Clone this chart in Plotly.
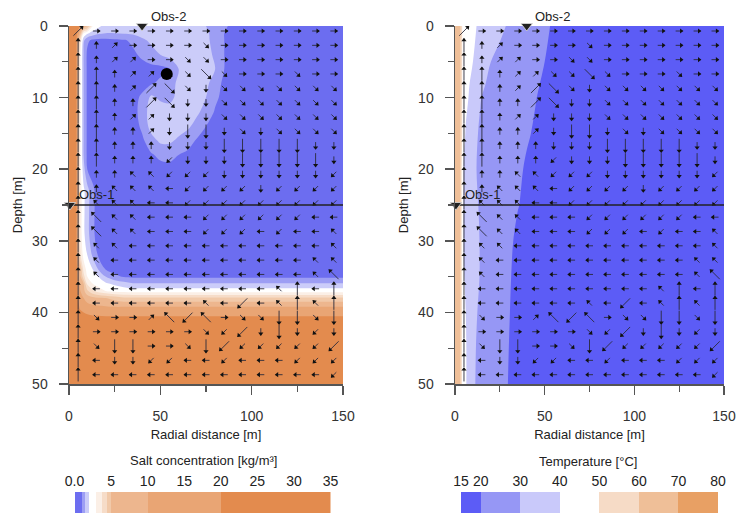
import numpy as np
import plotly.graph_objects as go

W, H = 737, 513
FONT = "Liberation Sans, Arial, sans-serif"

# ---------------- data ----------------
X_TICKS = [0, 50, 100, 150]
X_MINOR = [25, 75, 125]
Y_TICKS = [0, 10, 20, 30, 40, 50]
Y_MINOR = [5, 15, 25, 35, 45]

# Salt concentration field [kg/m3]
SALT_X = [0, 2, 4, 6, 8, 10, 13, 16, 20, 25, 30, 35, 40, 45, 50, 55, 60, 65, 70, 75, 80, 85, 90, 100, 120, 150]
SALT_DEPTH = [0, 1, 2, 4, 6, 8, 10, 12, 14, 16, 18, 20, 23, 26, 29, 32, 34, 35, 36, 37, 38, 39, 40, 41, 44, 47, 50]
SALT = [
    [30, 30, 28, 20, 12, 6, 3, 2.3, 1.8, 1.75, 1.7, 1.7, 1.7, 1.7, 1.7, 1.75, 1.75, 1.7, 1.65, 1.5, 1.3, 1.1, 0.7, 0.5, 0.5, 0.5],
    [30, 30, 26, 8, 3, 2.2, 1.8, 1.6, 1.5, 1.5, 1.55, 1.6, 1.7, 1.7, 1.75, 1.75, 1.8, 1.8, 1.7, 1.6, 1.3, 1.0, 0.6, 0.5, 0.5, 0.5],
    [30, 30, 25, 4, 1.6, 1.1, 0.8, 0.7, 0.7, 0.8, 0.9, 1.1, 1.4, 1.6, 1.7, 1.75, 1.8, 1.8, 1.75, 1.6, 1.35, 1.0, 0.6, 0.5, 0.5, 0.5],
    [30, 30, 25, 3.2, 1.5, 0.8, 0.5, 0.5, 0.5, 0.5, 0.6, 0.8, 1.1, 1.3, 1.5, 1.7, 1.8, 1.8, 1.8, 1.7, 1.4, 1.0, 0.6, 0.5, 0.5, 0.5],
    [30, 30, 25, 3.2, 1.5, 0.8, 0.5, 0.5, 0.5, 0.5, 0.5, 0.5, 0.6, 0.7, 0.7, 0.9, 1.5, 1.8, 1.8, 1.75, 1.5, 1.0, 0.6, 0.5, 0.5, 0.5],
    [30, 30, 25, 3.2, 1.5, 0.8, 0.5, 0.5, 0.5, 0.5, 0.5, 0.5, 0.6, 0.9, 1.1, 1.3, 1.6, 1.8, 1.8, 1.65, 1.2, 0.8, 0.5, 0.5, 0.5, 0.5],
    [30, 30, 25, 3.2, 1.5, 0.8, 0.5, 0.5, 0.5, 0.5, 0.5, 0.6, 1.1, 1.6, 1.4, 1.3, 1.7, 1.8, 1.75, 1.5, 1.1, 0.7, 0.5, 0.5, 0.5, 0.5],
    [30, 30, 25, 3.2, 1.5, 0.8, 0.5, 0.5, 0.5, 0.5, 0.5, 0.6, 1.2, 1.75, 1.8, 1.8, 1.8, 1.75, 1.6, 1.3, 0.9, 0.6, 0.5, 0.5, 0.5, 0.5],
    [30, 30, 25, 3.2, 1.5, 0.8, 0.5, 0.5, 0.5, 0.5, 0.5, 0.5, 1.1, 1.7, 1.8, 1.8, 1.75, 1.6, 1.3, 1.0, 0.6, 0.5, 0.5, 0.5, 0.5, 0.5],
    [30, 30, 25, 3.2, 1.5, 0.8, 0.5, 0.5, 0.5, 0.5, 0.5, 0.5, 0.8, 1.3, 1.6, 1.6, 1.4, 1.2, 0.9, 0.6, 0.5, 0.5, 0.5, 0.5, 0.5, 0.5],
    [30, 30, 25, 3.2, 1.5, 0.8, 0.5, 0.5, 0.5, 0.5, 0.5, 0.5, 0.6, 0.9, 1.1, 1.15, 1.0, 0.8, 0.6, 0.5, 0.5, 0.5, 0.5, 0.5, 0.5, 0.5],
    [30, 30, 25, 3.3, 1.7, 1.0, 0.6, 0.5, 0.5, 0.5, 0.5, 0.5, 0.5, 0.6, 0.7, 0.7, 0.6, 0.5, 0.5, 0.5, 0.5, 0.5, 0.5, 0.5, 0.5, 0.5],
    [30, 30, 25, 3.5, 2.2, 1.7, 1.1, 0.6] + [0.5] * 18,
    [30, 30, 25, 3.5, 2.2, 1.7, 1.1, 0.6] + [0.5] * 18,
    [30, 30, 25, 3.5, 2.2, 1.7, 1.1, 0.6] + [0.5] * 18,
    [30, 30, 25, 4, 2.6, 2.0, 1.4, 0.9, 0.6] + [0.5] * 17,
    [30, 30, 26, 6, 3.5, 2.6, 2.0, 1.5, 1.0, 0.7, 0.55] + [0.5] * 15,
    [30, 30, 26, 7, 4, 3.0, 2.4, 2.0, 1.5, 1.1, 0.9] + [0.8] * 15,
    [30, 30, 27, 9, 5, 3.6, 3.0, 2.6, 2.2, 1.9, 1.7] + [1.55] * 15,
    [30, 30, 27, 11, 6.5, 4.6, 3.9, 3.4, 3.0, 2.7, 2.6] + [2.5] * 15,
    [30, 30, 28, 14, 10, 8, 6.5, 5.8, 5.2, 4.8] + [4.6] * 16,
    [30, 30, 28, 18, 14, 12, 10.5, 9.8, 9.5] + [9] * 17,
    [30, 30, 29, 22, 20, 19, 18, 17.5] + [17] * 18,
    [30, 30, 29, 25, 24, 24, 24, 24] + [24] * 18,
    [30, 30, 30] + [28] * 23,
    [30] * 26,
    [30] * 26,
]
SALT_LEVELS = [0, 1, 1.5, 2, 3, 3.75, 4.5, 5, 10, 20, 35]
SALT_COLORS = ["#6c6df0", "#9d9ef4", "#cbccf9", "#ffffff", "#fbefe6",
               "#f6dcc8", "#f1c9a9", "#edb68e", "#e9a574", "#e38b4e"]
SALT_TICKS = [0, 5, 10, 15, 20, 25, 30, 35]
SALT_TICKTEXT = ["0.0", "5", "10", "15", "20", "25", "30", "35"]

# Temperature field [degC]
TEMP_X = [0, 2, 3, 4, 5, 6, 8, 10, 12, 14, 17, 20, 25, 30, 35, 40, 45, 50, 55, 60, 80, 150]
TEMP_DEPTH = [0, 5, 10, 15, 20, 25, 30, 35, 40, 45, 50]
TEMP = [
    [65, 65, 60, 50, 48, 47, 45, 42, 40, 38.5, 37, 35, 32, 29, 27, 25, 23, 21.5, 19.5, 18.5, 17, 16],
    [65, 65, 60, 50, 47, 45, 42, 40, 37.5, 35.5, 32.5, 30, 27.5, 26, 24.5, 23, 21.5, 20, 19, 18.5, 17, 16],
    [65, 65, 60, 50, 46, 43, 39, 35, 32.5, 30.5, 28.5, 27, 25.5, 24, 22.8, 21.5, 20.2, 19.3, 18.8, 18.3, 17, 16],
    [65, 65, 60, 50, 43, 39, 35, 32.5, 30.7, 29, 27.5, 26.5, 25, 23.5, 22, 20.7, 19.6, 19, 18.6, 18.2, 17, 16],
    [65, 65, 60, 46, 38, 36, 33.5, 31.5, 30, 28.8, 27.5, 26, 24.5, 23, 21.2, 19.6, 19, 18.7, 18.4, 18, 17, 16],
    [65, 65, 60, 46, 38, 36, 33.5, 31.8, 30.5, 29.5, 28, 26.5, 24.5, 22.5, 20.2, 19.5, 19, 18.7, 18.4, 18, 17, 16],
    [65, 65, 60, 46, 38, 36, 34, 32, 31, 29.8, 28, 26, 23.5, 21, 19.5, 19, 18.8, 18.6, 18.4, 18, 17, 16],
    [65, 65, 60, 47, 40.5, 38, 34.5, 32.3, 31, 29.8, 28, 25.5, 23, 20.5, 19.3, 19, 18.8, 18.6, 18.4, 18, 17, 16],
    [65, 65, 60, 48, 43, 40, 35, 32, 30.3, 29, 27, 25, 22.5, 20.2, 19.3, 19, 18.8, 18.6, 18.4, 18, 17, 16],
    [65, 65, 60, 48, 44, 41, 35, 31.5, 29.7, 28.5, 26.5, 24.5, 22, 20, 19.3, 19, 18.8, 18.6, 18.4, 18, 17, 16],
    [65, 65, 60, 48, 44, 41, 35, 31, 29.5, 28.3, 26.3, 24.3, 21.8, 19.9, 19.3, 19, 18.8, 18.6, 18.4, 18, 17, 16],
]
TEMP_LEVELS = [15, 20, 30, 40, 50, 60, 70, 80]
TEMP_COLORS = ["#5c5cf6", "#9697f5", "#c9c9fa", "#ffffff", "#f6dbc6", "#efbf98", "#e8a064"]
TEMP_TICKS = [15, 20, 30, 40, 50, 60, 70, 80]

# Velocity arrows: direction codes (numpad digits = short arrows, keyboard letters = long arrows)
ARROW_X = [5, 15, 25, 35, 45, 55, 65, 75, 85, 95, 105, 115, 125, 135, 145]
ARROW_DEPTH = [0.7, 2.7, 4.7, 6.7, 8.7, 10.7, 12.7, 14.7, 16.7, 18.7, 20.7, 22.7, 24.7,
               26.7, 28.7, 30.7, 32.7, 34.7, 36.7, 38.7, 40.7, 42.7, 44.7, 46.7, 48.7]
ARROW_CODES = [
    "E66666666666666",
    "W89666636666666",
    "W89966336666666",
    "WW89933C3666366",
    "WW89EC323333333",
    "WW88EC223333333",
    "WW8992223333333",
    "WW8892XX2323333",
    "WW888222XXXXX22",
    "WW8881222XXXXX2",
    "W88771112222221",
    "W87774111121111",
    "W77744111111111",
    "WQ7744411111144",
    "WQ7744411141447",
    "W77444444444447",
    "W74444444444477",
    "W7444444444447Q",
    "W44444444447W4W",
    "W44444474Z47W7W",
    "W3669QZQ633XX3X",
    "W66666631Z2X212",
    "W3XX663XZ11111Z",
    "W42211441444111",
    "W44444444444441",
]
DIR_DEG = {"6": 0, "9": 45, "8": 90, "7": 135, "4": 180, "1": 225, "2": 270, "3": 315,
           "D": 0, "E": 45, "W": 90, "Q": 135, "A": 180, "Z": 225, "X": 270, "C": 315}

OBS1 = (0.5, 25)   # marker position (x, depth)
OBS2 = (40, 0)
DOT = (53.5, 6.7)

# ---------------- geometry (px) ----------------
L_X0, L_X1 = 69, 343
R_X0, R_X1 = 455, 724
Y_TOP, Y_BOT = 26, 384
X_RANGE = [0, 150]
Y_RANGE = [50, 0]


def fx(p):
    return p / W


def fy(p):
    return 1 - p / H


def band_index(z, levels):
    return np.interp(np.asarray(z, float), levels, np.arange(len(levels)))


def stepped_scale(colors):
    m = len(colors) - 1
    sc = []
    for k, c in enumerate(colors):
        lo = max(0.0, (k - 0.5) / m)
        hi = min(1.0, (k + 0.5) / m)
        sc += [[lo, c], [hi, c]]
    return sc


fig = go.Figure()


def add_field(xs, ds, z, levels, colors, xa, ya):
    fig.add_trace(go.Contour(
        x=xs, y=ds, z=band_index(z, levels),
        contours=dict(start=1, end=len(levels) - 2, size=1, coloring="fill", showlines=False),
        colorscale=stepped_scale(colors), showscale=False,
        line=dict(width=0, smoothing=1), hoverinfo="skip",
        xaxis=xa, yaxis=ya))


def add_arrows(xa, ya, px_per_m_x, px_per_m_y):
    SHORT, LONG = 7.0, 13.5
    sx, sy, hx, hy, ang = [], [], [], [], []
    for r, row in enumerate(ARROW_CODES):
        for c, code in enumerate(row):
            deg = DIR_DEG[code]
            th = np.radians(deg)
            L = LONG if code.isalpha() else SHORT
            ux, uy = np.cos(th) / px_per_m_x, -np.sin(th) / px_per_m_y
            x0, d0 = ARROW_X[c], ARROW_DEPTH[r]
            sx += [x0 - ux * L / 2, x0 + ux * L / 2, None]
            sy += [d0 - uy * L / 2, d0 + uy * L / 2, None]
            hx.append(x0 + ux * (L / 2 - 1.5))
            hy.append(d0 + uy * (L / 2 - 1.5))
            ang.append(90 - deg)
    fig.add_trace(go.Scatter(x=sx, y=sy, mode="lines", line=dict(color="#2a2a3a", width=0.9),
                             hoverinfo="skip", xaxis=xa, yaxis=ya))
    fig.add_trace(go.Scatter(x=hx, y=hy, mode="markers",
                             marker=dict(symbol="triangle-up", size=4.5, angle=ang, color="#111",
                                         line=dict(width=0)),
                             hoverinfo="skip", xaxis=xa, yaxis=ya))


def add_obs(xa, ya):
    fig.add_trace(go.Scatter(x=X_RANGE, y=[OBS1[1], OBS1[1]], mode="lines",
                             line=dict(color="#222", width=1.6), hoverinfo="skip",
                             xaxis=xa, yaxis=ya, cliponaxis=False))
    fig.add_trace(go.Scatter(x=[OBS1[0], OBS2[0]], y=[OBS1[1], OBS2[1]], mode="markers",
                             marker=dict(symbol="triangle-down", size=10, color="#222",
                                         line=dict(color="#ddd", width=0.8)),
                             hoverinfo="skip", xaxis=xa, yaxis=ya, cliponaxis=False))
    fig.add_annotation(x=OBS1[0], y=OBS1[1], xref=xa, yref=ya, text="Obs-1", showarrow=False,
                       xanchor="center", yanchor="middle",
                       xshift=27, yshift=11, font=dict(family=FONT, size=13, color="#222"))
    fig.add_annotation(x=OBS2[0], y=OBS2[1], xref=xa, yref=ya, text="Obs-2", showarrow=False,
                       xanchor="center", yanchor="middle",
                       xshift=26, yshift=10, font=dict(family=FONT, size=13, color="#222"))


# left panel: salt
add_field(SALT_X, SALT_DEPTH, SALT, SALT_LEVELS, SALT_COLORS, "x", "y")
add_arrows("x", "y", (L_X1 - L_X0) / 150, (Y_BOT - Y_TOP) / 50)
add_obs("x", "y")
fig.add_trace(go.Scatter(x=[DOT[0]], y=[DOT[1]], mode="markers",
                         marker=dict(size=12, color="black"), hoverinfo="skip",
                         xaxis="x", yaxis="y"))

# right panel: temperature
add_field(TEMP_X, TEMP_DEPTH, TEMP, TEMP_LEVELS, TEMP_COLORS, "x2", "y2")
add_arrows("x2", "y2", (R_X1 - R_X0) / 150, (Y_BOT - Y_TOP) / 50)
add_obs("x2", "y2")

# colour bars
fig.add_trace(go.Bar(y=[0.5] * len(SALT_COLORS),
                     x=np.diff(SALT_LEVELS), base=SALT_LEVELS[:-1], orientation="h",
                     width=1, marker=dict(color=SALT_COLORS, line=dict(width=0)),
                     hoverinfo="skip", xaxis="x3", yaxis="y3"))
fig.add_trace(go.Bar(y=[0.5] * len(TEMP_COLORS),
                     x=np.diff(TEMP_LEVELS), base=TEMP_LEVELS[:-1], orientation="h",
                     width=1, marker=dict(color=TEMP_COLORS, line=dict(width=0)),
                     hoverinfo="skip", xaxis="x4", yaxis="y4"))

axis_common = dict(
    showline=True, linecolor="#555", linewidth=1.5, mirror=False, automargin=False,
    ticks="outside", ticklen=9, tickwidth=1.5, tickcolor="#555",
    showgrid=False, zeroline=False,
    tickfont=dict(family=FONT, size=14, color="#333"),
    minor=dict(ticks="outside", ticklen=6, tickwidth=1.2, tickcolor="#555", showgrid=False),
)


def xaxis_cfg(x0, x1, anchor):
    d = dict(axis_common)
    d.update(domain=[fx(x0), fx(x1)], range=X_RANGE, anchor=anchor,
             tickvals=X_TICKS, ticklabelstandoff=10,
             title=dict(text="Radial distance [m]", standoff=6,
                        font=dict(family=FONT, size=13, color="#222")))
    d["minor"] = dict(axis_common["minor"], tickvals=X_MINOR)
    return d


def yaxis_cfg(anchor):
    d = dict(axis_common)
    d.update(domain=[fy(Y_BOT), fy(Y_TOP)], range=Y_RANGE, anchor=anchor,
             tickvals=Y_TICKS, ticklabelstandoff=8,
             title=dict(text="Depth [m]", standoff=6,
                        font=dict(family=FONT, size=13, color="#222")))
    d["minor"] = dict(axis_common["minor"], tickvals=Y_MINOR)
    return d


def cbar_x(x0, x1, rng, tv, tt, anchor):
    return dict(domain=[fx(x0), fx(x1)], range=rng, anchor=anchor, side="top",
                tickvals=tv, ticktext=tt, ticks="", showline=False, showgrid=False,
                zeroline=False, ticklabelstandoff=2, automargin=False,
                tickfont=dict(family=FONT, size=14, color="#222"))


cb_y = dict(domain=[0, fy(492)], range=[0, 1], visible=False, fixedrange=True, automargin=False)

fig.update_layout(
    template="none",
    width=W, height=H, autosize=False,
    margin=dict(l=0, r=0, t=0, b=0, pad=0),
    paper_bgcolor="white", plot_bgcolor="white",
    showlegend=False, barmode="overlay", bargap=0,
    font=dict(family=FONT, color="#222"),
    xaxis=xaxis_cfg(L_X0, L_X1, "y"),
    yaxis=yaxis_cfg("x"),
    xaxis2=xaxis_cfg(R_X0, R_X1, "y2"),
    yaxis2=yaxis_cfg("x2"),
    xaxis3=cbar_x(74.5, 330.5, [0, 35], SALT_TICKS, SALT_TICKTEXT, "y3"),
    yaxis3=dict(cb_y, anchor="x3"),
    xaxis4=cbar_x(461, 718, [15, 80], TEMP_TICKS, [str(t) for t in TEMP_TICKS], "y4"),
    yaxis4=dict(cb_y, anchor="x4"),
)

fig.add_annotation(x=fx(203), y=fy(460), xref="paper", yref="paper",
                   xanchor="center", yanchor="middle",
                   text="Salt concentration [kg/m³]", showarrow=False,
                   font=dict(family=FONT, size=13, color="#222"))
fig.add_annotation(x=fx(588), y=fy(461), xref="paper", yref="paper",
                   xanchor="center", yanchor="middle",
                   text="Temperature [°C]", showarrow=False,
                   font=dict(family=FONT, size=13, color="#222"))

fig.write_html("out.html", config={"displayModeBar": False, "staticPlot": True},
               post_script="document.body.style.margin='0';document.body.style.overflow='hidden';")
